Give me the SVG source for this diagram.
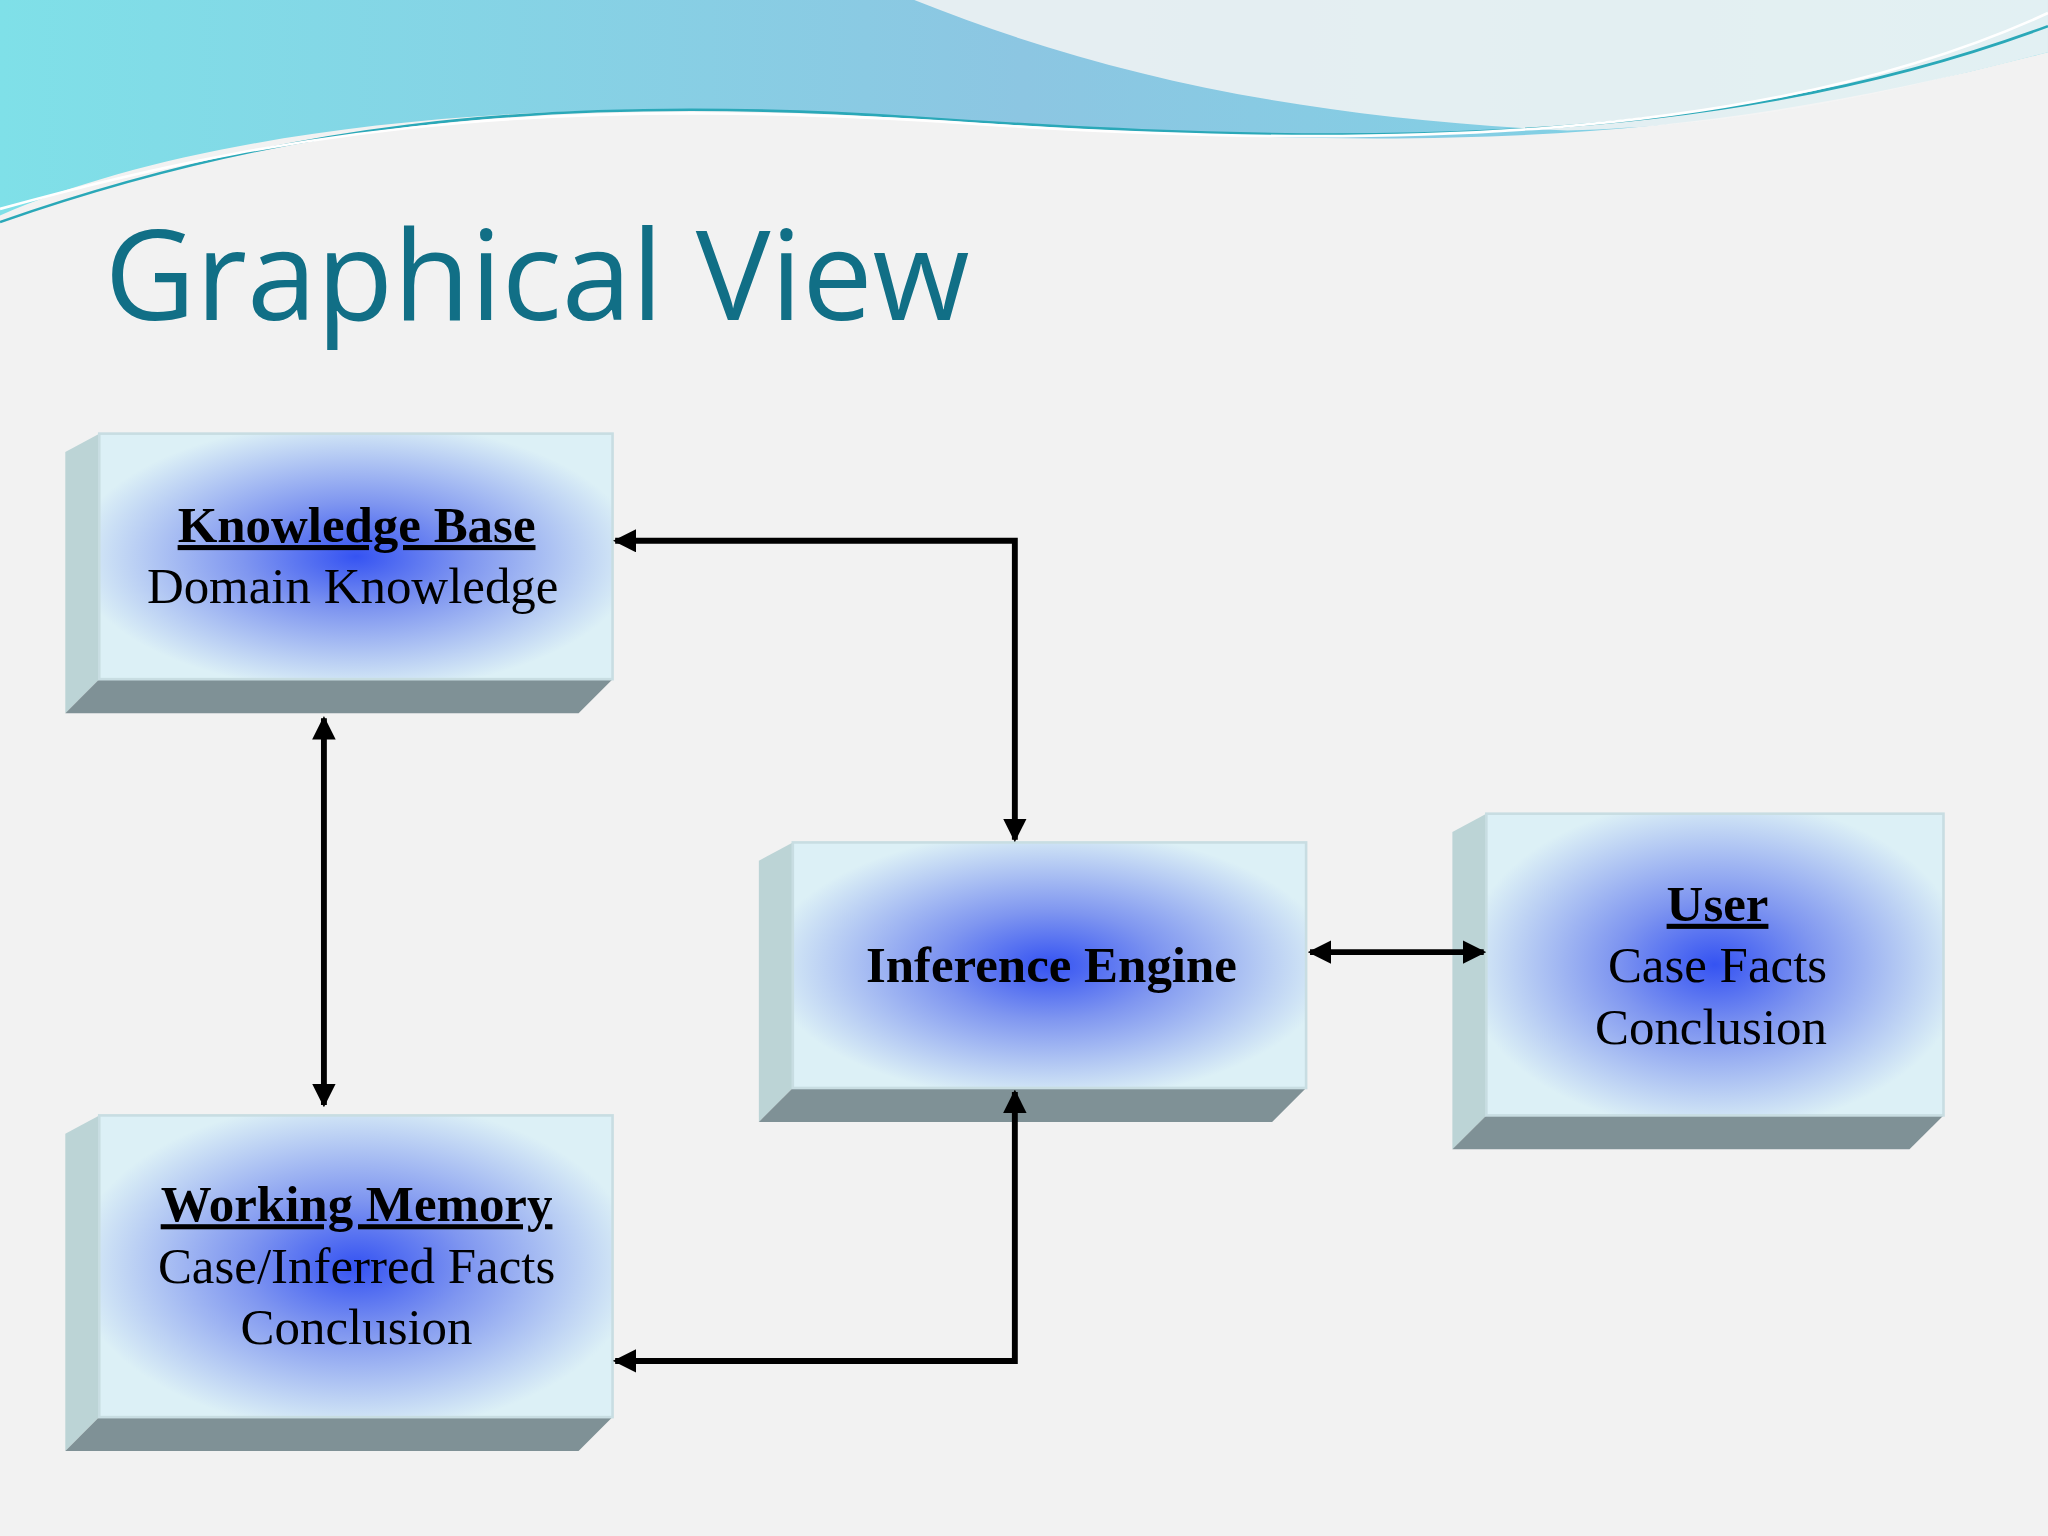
<svg xmlns="http://www.w3.org/2000/svg" width="2048" height="1536" viewBox="0 0 2048 1536">
<defs>
<radialGradient id="g" cx="0.5" cy="0.5" r="0.55">
<stop offset="0" stop-color="#3553f2"/><stop offset="0.4" stop-color="#7f96f0"/><stop offset="1" stop-color="#dcf0f6"/>
</radialGradient>
<linearGradient id="w" x1="0" y1="0" x2="1" y2="0"><stop offset="0" stop-color="#7fe0e8"/><stop offset="0.5" stop-color="#8cc6e2"/><stop offset="1" stop-color="#7ad8e6"/></linearGradient>
<marker id="a" viewBox="0 0 10 10" refX="9" refY="5" markerWidth="4" markerHeight="4" orient="auto-start-reverse"><path d="M0,0L10,5L0,10z" fill="#000"/></marker>
<style>
.f{fill:url(#g);stroke:#c8dde2;stroke-width:2}.s{fill:#bcd4d6}.b{fill:#7f9196}
.t{font-family:"Liberation Serif",serif;font-size:39px;text-anchor:middle;fill:#000}
.h{font-weight:bold;text-decoration:underline}
.c{fill:none;stroke:#000;stroke-width:4.5;marker-start:url(#a);marker-end:url(#a)}
</style>
</defs>
<rect width="2048" height="1536" fill="#f2f2f2"/>
<g transform="scale(1.3061)">
<path d="M0,0H1568V40C1300,110 1100,120 700,90C400,70 150,100 0,165Z" fill="url(#w)"/>
<path d="M700,0C850,60 1000,90 1200,100C1350,95 1450,70 1568,40V0Z" fill="#f4f4f4" opacity="0.85"/>
<path d="M0,170C200,100 400,70 700,90C1000,110 1300,120 1568,20" fill="none" stroke="#2aa8b8" stroke-width="2"/>
<path d="M0,160C250,90 450,75 750,95C1050,115 1350,110 1568,10" fill="none" stroke="#fff" stroke-width="2"/>
<text x="80" y="245" font-family="'Open Sans',sans-serif" font-size="96" fill="#116f86">Graphical View</text>
<g id="kb"><polygon class="s" points="50,346 76,332 76,520 50,546"/><polygon class="b" points="76,520 469,520 443,546 50,546"/><rect class="f" x="76" y="332" width="393" height="188"/>
<text class="t h" x="273" y="415">Knowledge Base</text><text class="t" x="270" y="462">Domain Knowledge</text></g>
<g id="wm"><polygon class="s" points="50,868 76,854 76,1085 50,1111"/><polygon class="b" points="76,1085 469,1085 443,1111 50,1111"/><rect class="f" x="76" y="854" width="393" height="231"/>
<text class="t h" x="273" y="935">Working Memory</text><text class="t" x="273" y="982">Case/Inferred Facts</text><text class="t" x="273" y="1029">Conclusion</text></g>
<g id="ie"><polygon class="s" points="581,659 607,645 607,833 581,859"/><polygon class="b" points="607,833 1000,833 974,859 581,859"/><rect class="f" x="607" y="645" width="393" height="188"/>
<text class="t" x="805" y="752" font-weight="bold">Inference Engine</text></g>
<g id="user"><polygon class="s" points="1112,637 1138,623 1138,854 1112,880"/><polygon class="b" points="1138,854 1488,854 1462,880 1112,880"/><rect class="f" x="1138" y="623" width="350" height="231"/>
<text class="t h" x="1315" y="705">User</text><text class="t" x="1315" y="752">Case Facts</text><text class="t" x="1310" y="799">Conclusion</text></g>
<g id="connectors">
<path class="c" d="M777,643V414H471"/>
<path class="c" d="M248,550V846"/>
<path class="c" d="M1003,729H1136"/>
<path class="c" d="M471,1042H777V836"/>
</g>
</g>
</svg>
